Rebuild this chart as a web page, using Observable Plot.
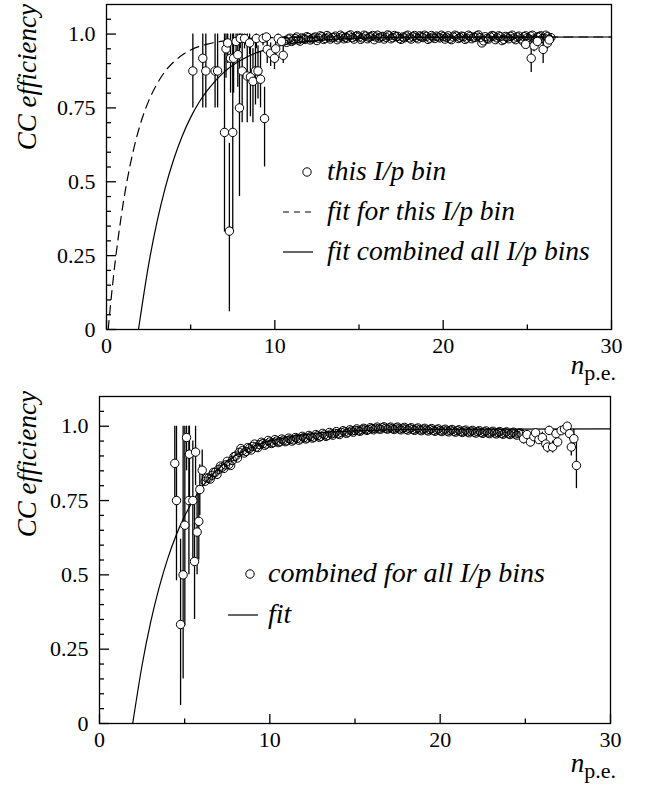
<!DOCTYPE html>
<html><head><meta charset="utf-8">
<script src="https://cdn.jsdelivr.net/npm/d3@7"></script>
<script src="https://cdn.jsdelivr.net/npm/@observablehq/plot@0.6"></script>
<style>
body{margin:0;background:#fff;}
#wrap{position:relative;width:651px;height:788px;overflow:hidden;background:#fff;}
#wrap svg{display:block;}
#wrap svg text, #wrap svg tspan{font-family:"Liberation Serif","Times New Roman",Times,serif;}
</style></head><body><div id="wrap"></div>
<script>
// ---------- axis ticks ----------
const xTicksMajor = [0, 10, 20, 30];
const xTicksMinor = [5, 15, 25];
const yTicksMajor = [0, 0.25, 0.5, 0.75, 1.0];
const yTickLabels = ["0", "0.25", "0.5", "0.75", "1.0"];
const yTicksMinor = [0.05,0.1,0.15,0.2,0.3,0.35,0.4,0.45,0.55,0.6,0.65,0.7,0.8,0.85,0.9,0.95,1.05];

// ---------- top panel: this I/p bin ----------
// sparse points with error bars: [x, y, lo, hi]
const topSparse = [
 [5.13,0.875,0.75,1.0],[5.72,0.918,0.75,1.0],[5.9,0.875,0.75,1.0],[6.45,0.875,0.75,1.0],
 [6.6,0.875,0.75,1.0],[7.01,0.667,0.33,1.0],[7.1,0.95,0.85,1.0],[7.2,0.97,0.9,1.0],
 [7.3,0.333,0.06,0.63],[7.37,0.918,0.8,1.0],[7.5,0.667,0.33,1.0],[7.55,0.918,0.8,1.0],
 [7.7,0.975,0.93,1.0],[7.8,0.93,0.82,1.0],[7.9,0.75,0.45,1.0],[7.95,0.985,0.95,1.0],
 [8.06,0.875,0.7,1.0],[8.2,0.985,0.95,1.0],[8.36,0.858,0.7,1.0],[8.5,0.97,0.93,1.0],
 [8.55,0.855,0.72,0.97],[8.7,0.84,0.7,0.95],[8.85,0.875,0.76,0.97],[8.9,0.985,0.95,1.0],
 [9.0,0.875,0.78,0.96],[9.15,0.847,0.75,0.94],[9.3,0.985,0.96,1.0],[9.39,0.714,0.55,0.82],
 [9.5,0.99,0.97,1.0],[9.55,0.948,0.9,0.99],[9.75,0.935,0.89,0.97],[9.98,0.918,0.88,0.96],
 [10.05,0.95,0.92,0.98],[10.2,0.985,0.97,1.0],[10.4,0.975,0.96,0.99],[10.5,0.928,0.9,0.96],
 [24.9,0.965,0.95,0.98],[25.23,0.918,0.87,0.96],[25.4,0.96,0.94,0.98],[25.6,0.975,0.96,0.99],
 [25.94,0.948,0.9,0.99],[26.2,0.97,0.95,0.99],[26.3,0.98,0.96,1.0]
];
// dense plateau points: [x, y]
const topBand = [
 [10.6,.978],[10.8,.983],[11.0,.975],[11.2,.985],[11.4,.980],[11.6,.987],[11.8,.982],[12.0,.988],
 [12.2,.984],[12.4,.990],[12.6,.986],[12.8,.991],[13.0,.985],[13.2,.990],[13.4,.988],[13.6,.993],
 [13.8,.987],[14.0,.991],[14.2,.989],[14.4,.994],[14.6,.988],[14.8,.992],[15.0,.990],[15.2,.987],
 [15.4,.993],[15.6,.989],[15.8,.995],[16.0,.990],[16.2,.986],[16.4,.992],[16.6,.989],[16.8,.994],
 [17.0,.988],[17.2,.991],[17.4,.985],[17.6,.990],[17.8,.993],[18.0,.987],[18.2,.991],[18.4,.989],
 [18.6,.994],[18.8,.988],[19.0,.992],[19.2,.986],[19.4,.990],[19.6,.993],[19.8,.987],[20.0,.991],
 [20.2,.989],[20.4,.984],[20.6,.990],[20.8,.993],[21.0,.988],[21.2,.991],[21.4,.986],[21.6,.992],
 [21.8,.989],[22.0,.994],[22.2,.988],[22.4,.977],[22.6,.985],[22.8,.990],[23.0,.993],[23.2,.987],
 [23.4,.991],[23.6,.982],[23.8,.989],[24.0,.992],[24.2,.986],[24.4,.990],[24.6,.984],[24.8,.991],
 [25.0,.987],[25.2,.993],[25.4,.983],[25.6,.990],[25.8,.994],[26.0,.986],[26.2,.991],[26.4,.988],
 [10.7,.972],[10.9,.986],[11.1,.979],[11.3,.990],[11.5,.976],[11.7,.984],[11.9,.991],[12.1,.980],
 [12.3,.987],[12.5,.978],[12.7,.994],[12.9,.982],[13.1,.995],[13.3,.983],[13.5,.989],[13.7,.981],
 [13.9,.996],[14.1,.984],[14.3,.986],[14.5,.997],[14.7,.983],[14.9,.995],[15.1,.982],[15.3,.996],
 [15.5,.984],[15.7,.991],[15.9,.981],[16.1,.996],[16.3,.990],[16.5,.983],[16.7,.997],[16.9,.984],
 [17.1,.995],[17.3,.992],[17.5,.982],[17.7,.987],[17.9,.996],[18.1,.983],[18.3,.995],[18.5,.984],
 [18.7,.991],[18.9,.996],[19.1,.982],[19.3,.995],[19.5,.985],[19.7,.990],[19.9,.996],[20.1,.983],
 [20.3,.994],[20.5,.981],[20.7,.996],[20.9,.985],[21.1,.993],[21.3,.982],[21.5,.996],[21.7,.984],
 [21.9,.989],[22.1,.997],[22.3,.970],[22.5,.991],[22.7,.983],[22.9,.995],[23.1,.981],[23.3,.994],
 [23.5,.978],[23.7,.992],[23.9,.984],[24.1,.996],[24.3,.981],[24.5,.993],[24.7,.978],[24.9,.994],
 [25.1,.983],[25.3,.996],[25.5,.979],[25.7,.992],[25.9,.985],[26.1,.996],[26.3,.982]
];
// fit curves: [x, efficiency]
const topFitThis = [
 [0.1,0],[0.3,0.118],[0.5,0.222],[0.75,0.333],[1,0.43],[1.5,0.582],[2,0.693],[2.5,0.773],
 [3,0.831],[3.5,0.875],[4,0.906],[5,0.946],[6,0.966],[7,0.977],[8,0.983],[10,0.988],[14,0.99],[30,0.99]
];
const topFitAll = [
 [1.9,0],[2.5,0.219],[3,0.364],[3.5,0.482],[4,0.577],[4.5,0.655],[5,0.718],[5.5,0.769],[6,0.81],
 [7,0.872],[8,0.912],[9,0.939],[10,0.956],[11,0.968],[12,0.975],[13,0.98],[14,0.984],[16,0.987],
 [18,0.989],[30,0.99]
];

// ---------- bottom panel: combined for all I/p bins ----------
const botSparse = [
 [4.42,0.875,0.75,1.0],[4.52,0.75,0.48,1.0],[4.76,0.333,0.06,0.62],[4.91,0.5,0.15,1.0],
 [5.01,0.667,0.33,1.0],[5.11,0.962,0.85,1.0],[5.25,0.75,0.5,1.0],[5.28,0.906,0.75,1.0],
 [5.48,0.75,0.55,0.95],[5.58,0.545,0.35,0.75],[5.64,0.913,0.8,1.0],[5.73,0.644,0.5,0.8],
 [5.83,0.68,0.55,0.8],[5.89,0.787,0.7,0.87],[6.03,0.852,0.78,0.92],
 [24.9,0.958,0.94,0.975],[25.1,0.972,0.96,0.985],[25.3,0.947,0.93,0.965],[25.5,0.965,0.95,0.98],
 [25.6,0.978,0.965,0.99],[25.8,0.955,0.94,0.97],[26.0,0.962,0.945,0.98],[26.2,0.94,0.92,0.96],
 [26.3,0.93,0.91,0.95],[26.4,0.986,0.97,1.0],[26.6,0.93,0.91,0.95],[26.8,0.975,0.96,0.99],
 [26.9,0.947,0.93,0.965],[27.1,0.985,0.97,1.0],[27.3,0.99,0.975,1.0],[27.46,1.0,0.985,1.0],
 [27.6,0.975,0.955,0.995],[27.7,0.93,0.9,0.96],[27.85,0.958,0.925,0.99],[28.0,0.868,0.79,0.95]
];
const botBand = [
 [6.2,.815],[6.4,.825],[6.6,.835],[6.8,.845],[7.0,.855],[7.2,.862],[7.4,.870],[7.6,.872],
 [7.8,.885],[8.0,.900],[8.2,.912],[8.4,.918],[8.6,.915],[8.8,.925],[9.0,.932],[9.2,.930],
 [9.4,.938],[9.6,.942],[9.8,.940],[10.0,.947],[10.2,.945],[10.4,.950],[10.6,.948],[10.8,.953],
 [11.0,.951],[11.2,.956],[11.4,.954],[11.6,.959],[11.8,.957],[12.0,.962],[12.2,.960],[12.4,.965],
 [12.6,.963],[12.8,.968],[13.0,.966],[13.2,.971],[13.4,.969],[13.6,.974],[13.8,.976],[14.0,.975],
 [14.2,.979],[14.4,.981],[14.6,.980],[14.8,.984],[15.0,.986],[15.2,.985],[15.4,.988],[15.6,.990],
 [15.8,.989],[16.0,.992],[16.2,.993],[16.4,.991],[16.6,.995],[16.8,.993],[17.0,.994],[17.2,.992],
 [17.4,.994],[17.6,.991],[17.8,.993],[18.0,.990],[18.2,.992],[18.4,.989],[18.6,.991],[18.8,.988],
 [19.0,.990],[19.2,.987],[19.4,.989],[19.6,.986],[19.8,.988],[20.0,.985],[20.2,.987],[20.4,.984],
 [20.6,.986],[20.8,.983],[21.0,.985],[21.2,.982],[21.4,.984],[21.6,.981],[21.8,.983],[22.0,.980],
 [22.2,.982],[22.4,.979],[22.6,.981],[22.8,.978],[23.0,.980],[23.2,.977],[23.4,.979],[23.6,.976],
 [23.8,.978],[24.0,.975],[24.2,.977],[24.4,.974],[24.6,.976],[24.8,.972],
 [6.3,.826],[6.5,.822],[6.7,.845],[6.9,.838],[7.1,.866],[7.3,.858],[7.5,.882],[7.7,.868],
 [7.9,.898],[8.1,.893],[8.3,.925],[8.5,.910],[8.7,.928],[8.9,.920],[9.1,.940],[9.3,.928],
 [9.5,.946],[9.7,.936],[9.9,.952],[10.1,.942],[10.3,.955],[10.5,.945],[10.7,.957],[10.9,.948],
 [11.1,.960],[11.3,.950],[11.5,.962],[11.7,.953],[11.9,.966],[12.1,.957],[12.3,.969],[12.5,.960],
 [12.7,.972],[12.9,.963],[13.1,.976],[13.3,.966],[13.5,.979],[13.7,.970],[13.9,.982],[14.1,.972],
 [14.3,.985],[14.5,.976],[14.7,.988],[14.9,.980],[15.1,.991],[15.3,.983],[15.5,.993],[15.7,.986],
 [15.9,.995],[16.1,.988],[16.3,.997],[16.5,.990],[16.7,.998],[16.9,.990],[17.1,.997],[17.3,.989],
 [17.5,.997],[17.7,.988],[17.9,.996],[18.1,.987],[18.3,.995],[18.5,.986],[18.7,.994],[18.9,.985],
 [19.1,.993],[19.3,.984],[19.5,.992],[19.7,.983],[19.9,.991],[20.1,.982],[20.3,.990],[20.5,.981],
 [20.7,.989],[20.9,.980],[21.1,.988],[21.3,.979],[21.5,.987],[21.7,.978],[21.9,.986],[22.1,.977],
 [22.3,.985],[22.5,.976],[22.7,.984],[22.9,.975],[23.1,.983],[23.3,.974],[23.5,.982],[23.7,.973],
 [23.9,.981],[24.1,.972],[24.3,.980],[24.5,.970],[24.7,.978]
];
const botFit = [
 [1.95,0],[2.5,0.196],[3,0.34],[3.5,0.457],[4,0.554],[4.5,0.633],[5,0.698],[5.5,0.75],[6,0.794],
 [7,0.858],[8,0.902],[9,0.931],[10,0.95],[11,0.963],[12,0.972],[13,0.978],[14,0.982],[16,0.986],
 [18,0.989],[30,0.991]
];

// ---------- text ----------
const yTitle = "CC efficiency";
const xTitleMain = "n", xTitleSub = "p.e.";
const topLegend = ["this I/p bin", "fit for this I/p bin", "fit combined all I/p bins"];
const botLegend = ["combined for all I/p bins", "fit"];

const SERIF = "Liberation Serif";

function makePanel(cfg) {
  const W = 651;
  const fw = W - cfg.ml - cfg.mr, fh = cfg.height - cfg.mt - cfg.mb;
  const sparse = cfg.sparse.map(([x,y,lo,hi]) => ({x,y,lo,hi}));
  const band = cfg.band.map(([x,y]) => ({x,y}));
  const marks = [];
  for (const f of cfg.fits) {
    marks.push(Plot.line(f.data.map(([x,y]) => ({x,y})), {x:"x", y:"y", curve:"monotone-x",
      stroke:"black", strokeWidth:1.2, strokeDasharray: f.dash || null}));
  }
  marks.push(
    Plot.ruleX(sparse, {x:"x", y1:"lo", y2:"hi", stroke:"black", strokeWidth:1.3}),
    Plot.dot(band, {x:"x", y:"y", r:4.2, fill:"none", stroke:"black", strokeWidth:1}),
    Plot.dot(sparse, {x:"x", y:"y", r:4.2, fill:"white", stroke:"black", strokeWidth:1}),
    Plot.frame({stroke:"black", strokeWidth:1.3}),
    Plot.tickX(xTicksMajor, {x:d=>d, insetTop: fh-9, stroke:"black", strokeWidth:1.3}),
    Plot.tickX(xTicksMinor, {x:d=>d, insetTop: fh-4.5, stroke:"black", strokeWidth:1.3}),
    Plot.tickY(yTicksMajor, {y:d=>d, insetRight: fw-10, stroke:"black", strokeWidth:1.3}),
    Plot.tickY(yTicksMinor, {y:d=>d, insetRight: fw-5, stroke:"black", strokeWidth:1.3}),
    Plot.axisX(xTicksMajor, {tickSize:0, tickPadding:cfg.xPad, label:null, tickFormat:d=>String(d),
      fontSize:22, fontFamily:SERIF}),
    Plot.axisY(yTicksMajor, {tickSize:0, tickPadding:cfg.yPad, label:null,
      tickFormat:d=>yTickLabels[yTicksMajor.indexOf(d)], fontSize:22, fontFamily:SERIF})
  );
  const svg = Plot.plot({
    width: W, height: cfg.height,
    marginTop: cfg.mt, marginBottom: cfg.mb, marginLeft: cfg.ml, marginRight: cfg.mr,
    x: {domain:[0,30], axis:null}, y: {domain:[0,1.1], axis:null},
    style: {fontFamily: SERIF, fontSize:"22px", color:"black", background:"white", overflow:"visible"},
    marks
  });
  const s = d3.select(svg);
  // y title
  s.append("text").attr("transform", `translate(${cfg.yTitleX},${cfg.yTitleTop}) rotate(-90)`)
    .attr("text-anchor","end").attr("font-family",SERIF).attr("font-style","italic")
    .attr("font-size",27).attr("fill","black").text(yTitle);
  // x title
  const xt = s.append("text").attr("x", cfg.xTitleRight).attr("y", cfg.xTitleBase)
    .attr("text-anchor","end").attr("font-family",SERIF).attr("fill","black");
  xt.append("tspan").attr("font-style","italic").attr("font-size",27).text(xTitleMain);
  xt.append("tspan").attr("font-size",22).attr("dy",6).text(xTitleSub);
  // legend
  const lg = cfg.legend;
  lg.items.forEach((it, i) => {
    const cy = lg.rows[i];
    if (it.kind === "dot") {
      s.append("circle").attr("cx", lg.dotX).attr("cy", cy).attr("r", 4.2)
        .attr("fill","white").attr("stroke","black");
    } else {
      s.append("line").attr("x1", lg.lineX1).attr("x2", lg.lineX2).attr("y1", cy).attr("y2", cy)
        .attr("stroke","black").attr("stroke-width",1.2).attr("stroke-dasharray", it.dash || null);
    }
    s.append("text").attr("x", lg.textX).attr("y", cy + 8).attr("text-anchor","start")
      .attr("font-family",SERIF).attr("font-style","italic").attr("font-size",lg.fontSize)
      .attr("fill","black").text(it.label);
  });
  return svg;
}

const wrap = document.getElementById("wrap");
wrap.appendChild(makePanel({
  height: 385, mt: 4, mb: 56, ml: 106, mr: 40, xPad: 8, yPad: 11,
  sparse: topSparse, band: topBand,
  fits: [{data: topFitThis, dash: "9,6"}, {data: topFitAll}],
  yTitleX: 36, yTitleTop: 4, xTitleRight: 616, xTitleBase: 374,
  legend: {rows:[172,212,252], dotX:307, lineX1:283, lineX2:313, textX:327, fontSize:27.5,
    items:[{kind:"dot", label:topLegend[0]},{kind:"line", dash:"6,5", label:topLegend[1]},{kind:"line", label:topLegend[2]}]}
}));
wrap.appendChild(makePanel({
  height: 403, mt: 11, mb: 65, ml: 99, mr: 41, xPad: 8, yPad: 11,
  sparse: botSparse, band: botBand,
  fits: [{data: botFit}],
  yTitleX: 36, yTitleTop: 6, xTitleRight: 616, xTitleBase: 387,
  legend: {rows:[189,230], dotX:250, lineX1:228, lineX2:258, textX:268, fontSize:28,
    items:[{kind:"dot", label:botLegend[0]},{kind:"line", label:botLegend[1]}]}
}));
</script></body></html>
